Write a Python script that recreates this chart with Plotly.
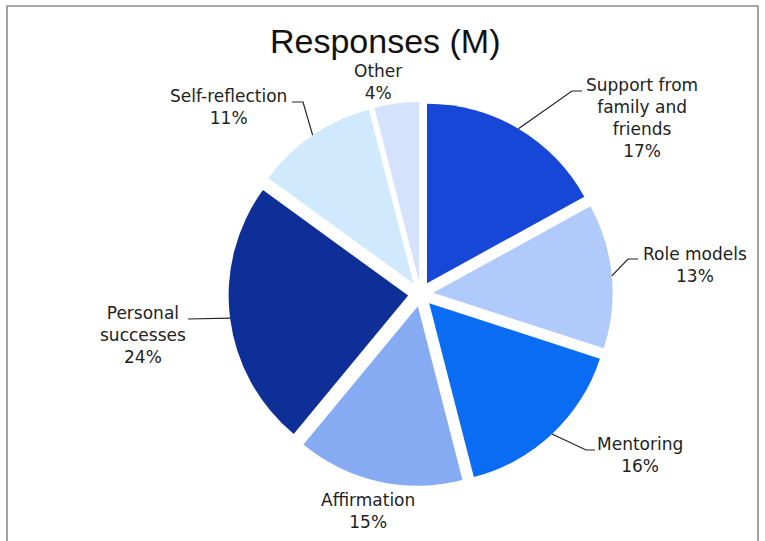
import math
import plotly.graph_objects as go

# Survey responses (share of respondents, %)
categories = [
    "Support from family and friends",
    "Role models",
    "Mentoring",
    "Affirmation",
    "Personal successes",
    "Self-reflection",
    "Other",
]
shares = [17, 13, 16, 15, 24, 11, 4]
label_lines = [
    "Support from<br>family and<br>friends",
    "Role models",
    "Mentoring",
    "Affirmation",
    "Personal<br>successes",
    "Self-reflection",
    "Other",
]
colors = ["#1747D6", "#B0CBFB", "#0A6CF2", "#87ABF3", "#0E2F98", "#D0E9FD", "#D4E3FB"]

W, H = 765, 541

# Pie geometry in pixels
CX, CY, R = 420.6, 294.0, 179.5
PULL = 0.07
BOX = 2 * R * (1 + PULL)

# Label block centres (pixels) and leader-line bends (None = no leader line)
label_pos = [(642, 118), (695, 265), (640, 455), (368, 511), (143, 335), (228, 107), (378, 82)]
leader_bends = [
    [(572, 91), (582, 91)],
    [(628, 259), (638, 259)],
    [(586, 450), (595, 450)],
    None,
    [(188, 319)],
    [(303, 102), (292, 102)],
    None,
]


def px(x):
    return x / W


def py(y):
    return 1 - y / H


fig = go.Figure(
    go.Pie(
        labels=categories,
        values=shares,
        sort=False,
        direction="clockwise",
        rotation=0,
        pull=PULL,
        marker=dict(colors=colors, line=dict(width=0)),
        textinfo="none",
        showlegend=False,
        domain=dict(
            x=[px(CX - BOX / 2), px(CX + BOX / 2)],
            y=[py(CY + BOX / 2), py(CY - BOX / 2)],
        ),
    )
)

total = sum(shares)
annotations = [
    dict(
        text="Responses (M)",
        x=px(385), y=py(41), xref="paper", yref="paper",
        xanchor="center", yanchor="middle", showarrow=False,
        font=dict(family="Liberation Sans, Arial", size=34, color="#111111"),
    )
]
shapes = [
    dict(
        type="rect", xref="paper", yref="paper",
        x0=px(7), x1=px(758), y0=py(560), y1=py(6),
        line=dict(color="#8E8E8E", width=1.6), fillcolor="rgba(0,0,0,0)",
    )
]

cum = 0
for name, val, (lx, ly), bends in zip(label_lines, shares, label_pos, leader_bends):
    mid = 2 * math.pi * (cum + val / 2) / total
    cum += val
    annotations.append(
        dict(
            text=f"{name}<br>{val}%",
            x=px(lx), y=py(ly), xref="paper", yref="paper",
            xanchor="center", yanchor="middle", showarrow=False,
            font=dict(family="DejaVu Sans", size=17, color="#222222"),
        )
    )
    if bends:
        dist = R * (1 + PULL)
        sx = CX + dist * math.sin(mid)
        sy = CY - dist * math.cos(mid)
        pts = [(sx, sy)] + bends
        path = "M " + " L ".join(f"{px(a):.5f},{py(b):.5f}" for a, b in pts)
        shapes.append(
            dict(type="path", xref="paper", yref="paper", path=path,
                 line=dict(color="#222222", width=1.2))
        )

fig.update_layout(
    width=W,
    height=H,
    margin=dict(l=0, r=0, t=0, b=0),
    paper_bgcolor="white",
    plot_bgcolor="white",
    annotations=annotations,
    shapes=shapes,
)

fig.write_html("out.html")
